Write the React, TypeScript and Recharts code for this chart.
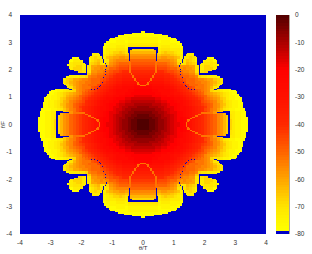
import { Label, Scatter, ScatterChart, XAxis, YAxis } from "recharts";

// Levels of the upper right quadrant, one char per 0.1 x 0.1 cell, 2.5 dB a step.
// First row sits next to y = 0; anything past the end of a row is the last step.
const levelCodes = "0123456789abcdefghijklmnopqrstuv";
const levelRows = [
  "00112334567789ccdefghijkmnprrtuuvv",
  "00112334567889ccdefghijkmnprrtuuvv",
  "11122344567889acdefghijkmnprstuuvv",
  "1122334556789abcdefghijkmnprstuuvv",
  "2223344567789abcdefghjlnpqrsttuuvv",
  "333344566789aabcdefgijlmoqstuuvvv",
  "334445567789aabcdefghjkmnprstuuvv",
  "444555667889abcdefghijkmnpqstuuvv",
  "55556677889aabcdefgijklmoprstuuvv",
  "6666778889aabcdefghiklmnoqrtuuvv",
  "77788899aabbcdefghijkmnoprstuuv",
  "888899aaabccdefghijkmnopqrstuv",
  "88899aaaabcdefghijklmnrsstuuv",
  "999aaaabbcdefghijlllmnpst",
  "ccabbbbccdefghikkkllmnoqst",
  "cccccccddefghikkkllmmnoprsu",
  "dddddddeefghijkkklmmnooqrt",
  "eeeeeeeffghijkkllmrsstttu",
  "fffffffgghijkllmmqtttt",
  "ggggggghiijklmmnnstsrrt",
  "hhhhhiiijkkmnmnnosttrrrt",
  "iiiiijjjklmnnnnoosttrrst",
  "jjjjkkkklmnrtspqrsttssst",
  "kkkkmmmmmnostsqrsuvvtttv",
  "mmmmoonnoopqttsrsu",
  "nnnnpqpppqrsttttt",
  "pppprsrqrrstuuttt",
  "rrrrstssstttu",
  "sssssutttuuuv",
  "tttttuuuuuuv",
  "uuuuuvuuuvv",
  "uuuuuvvvvv",
  "vvvvvvvvv",
  "vvvvv",
];

// Where the field is above the floor, per 0.05 row from y = 0 up: from, to, from, to...
const aboveFloor = [
  [0, 2.76, 2.85, 3.39], [0, 2.76, 2.85, 3.39], [0, 2.76, 2.85, 3.39], [0, 2.76, 2.85, 3.39],
  [0, 2.76, 2.85, 3.38], [0, 2.76, 2.85, 3.37], [0, 2.76, 2.85, 3.36], [0, 2.72, 2.85, 3.35],
  [0, 2.38, 2.85, 3.34], [0, 2.6, 2.85, 3.33], [0, 3.31], [0, 3.29],
  [0, 3.27], [0, 3.26], [0, 3.25], [0, 3.24],
  [0, 3.22], [0, 3.21], [0, 3.2], [0, 3.18],
  [0, 3.14], [0, 3.11], [0, 3.07], [0, 3.04],
  [0, 2.98], [0, 2.28, 2.42, 2.85], [0, 2.38], [0, 2.44],
  [0, 2.5], [0, 2.56], [0, 2.6], [0, 2.62],
  [0, 2.62], [0, 2.58], [0, 2.5], [0, 2.4],
  [0, 1.78], [0, 1.78], [0, 1.78, 1.87, 2.12], [0, 1.78, 1.86, 2.25],
  [0, 1.78, 1.86, 2.34], [0, 1.78, 1.86, 2.39], [0, 1.78, 1.86, 2.42], [0, 1.77, 1.87, 2.43],
  [0, 1.22, 1.26, 1.77, 1.89, 2.42], [0, 1.24, 1.29, 1.76, 1.93, 2.41],
  [0, 0.41, 0.45, 1.25, 1.3, 1.74, 1.97, 2.38], [0, 0.41, 0.45, 1.26, 1.3, 1.74, 2.03, 2.35],
  [0, 0.41, 0.45, 1.28, 1.34, 1.73, 2.12, 2.28], [0, 0.41, 0.45, 1.29, 1.35, 1.71],
  [0, 0.41, 0.45, 1.3, 1.42, 1.67], [0, 0.41, 0.45, 1.3, 1.47, 1.64],
  [0, 0.4, 0.48, 1.31], [0, 0.4, 0.48, 1.31], [0, 0.36, 0.48, 1.31], [0.48, 1.3],
  [0.48, 1.29], [0, 1.27], [0, 1.25], [0, 1.22],
  [0, 1.18], [0, 1.12], [0, 1.05], [0, 0.92],
  [0, 0.8], [0, 0.6], [0, 0.36], [0, 0.05],
];

// Thin contour round the inner tongues (x, y); the x axis tongue is the same swapped.
const ringX = [0.025, 0.075, 0.125, 0.175, 0.175, 0.225, 0.275, 0.275, 0.325, 0.325, 0.375, 0.375, 0.425, 0.425, 0.425, 0.425, 0.425, 0.425, 0.425, 0.425];
const ringY = [1.425, 1.425, 1.475, 1.475, 1.525, 1.575, 1.625, 1.675, 1.725, 1.775, 1.825, 1.875, 1.925, 1.975, 2.025, 2.075, 2.125, 2.175, 2.225, 2.275];
const RING_DB = -52.5;

// Dotted floor line between the body and the side lobes (x, y).
const arcX = [2.175, 2.075, 1.975, 1.875, 1.775, 1.675, 1.575, 1.475, 1.425, 1.375, 1.325, 1.275, 1.275, 1.225, 1.225, 1.225, 1.175, 1.175];
const arcY = [1.225, 1.225, 1.225, 1.225, 1.225, 1.275, 1.275, 1.325, 1.375, 1.425, 1.525, 1.625, 1.725, 1.825, 1.925, 2.025, 2.125, 2.175];

const axisTicks = [-4, -3, -2, -1, 0, 1, 2, 3, 4];
const barTicks = [-80, -70, -60, -50, -40, -30, -20, -10, 0];
const barLevels = [
  -0.5, -1.5, -2.5, -3.5, -4.5, -5.5, -6.5, -7.5, -8.5, -9.5, -10.5, -11.5, -12.5, -13.5, -14.5, -15.5,
  -16.5, -17.5, -18.5, -19.5, -20.5, -21.5, -22.5, -23.5, -24.5, -25.5, -26.5, -27.5, -28.5, -29.5, -30.5, -31.5,
  -32.5, -33.5, -34.5, -35.5, -36.5, -37.5, -38.5, -39.5, -40.5, -41.5, -42.5, -43.5, -44.5, -45.5, -46.5, -47.5,
  -48.5, -49.5, -50.5, -51.5, -52.5, -53.5, -54.5, -55.5, -56.5, -57.5, -58.5, -59.5, -60.5, -61.5, -62.5, -63.5,
  -64.5, -65.5, -66.5, -67.5, -68.5, -69.5, -70.5, -71.5, -72.5, -73.5, -74.5, -75.5, -76.5, -77.5, -78.5, -79.5,
];

// colormap stops: dB, r, g, b
const colourStops = [
  [0, 80, 0, 0],
  [-10, 170, 0, 0],
  [-20, 255, 0, 0],
  [-30, 255, 16, 0],
  [-40, 255, 40, 0],
  [-50, 255, 100, 0],
  [-60, 255, 165, 0],
  [-70, 255, 228, 0],
  [-78, 255, 255, 0],
];

const FLOOR_BLUE = "#0000c8";

function couleur(db: number) {
  if (db < -79) return FLOOR_BLUE;
  for (let i = 1; i < colourStops.length; i++) {
    const [d1, r1, g1, b1] = colourStops[i - 1];
    const [d2, r2, g2, b2] = colourStops[i];
    if (db >= d2) {
      const t = (d1 - db) / (d1 - d2);
      return `rgb(${r1 + (r2 - r1) * t},${g1 + (g2 - g1) * t},${b1 + (b2 - b1) * t})`;
    }
  }
  return "#ffff00";
}

const cleCellule = (x: number, y: number) => `${Math.round((x - 0.025) / 0.05)},${Math.round((y - 0.025) / 0.05)}`;
const ring = new Set<string>();
ringX.forEach((x, k) => {
  ring.add(cleCellule(x, ringY[k]));
  ring.add(cleCellule(ringY[k], x));
});
const arc = new Set<string>(arcX.map((x, k) => cleCellule(x, arcY[k])));

// the floor itself is the blue behind the map, only the cells above it are drawn
const cells: { x: number; y: number; db: number }[] = [];
aboveFloor.forEach((spans, j) => {
  const y = 0.025 + j * 0.05;
  const row = (levelRows[j >> 1] ?? "").padEnd(40, "v");
  for (let i = 0; i < 80; i++) {
    const x = 0.025 + i * 0.05;
    let dedans = false;
    for (let s = 0; s < spans.length; s += 2) if (x >= spans[s] && x <= spans[s + 1]) dedans = true;
    if (!dedans || arc.has(`${i},${j}`)) continue;
    const db = ring.has(`${i},${j}`) ? RING_DB : -2.5 * levelCodes.indexOf(row[i >> 1]);
    cells.push({ x, y, db }, { x: -x, y, db }, { x, y: -y, db }, { x: -x, y: -y, db });
  }
});

const barCells = barLevels.map((db) => ({ x: 0.5, y: db, db }));

const CELL_W = 246 / 160 + 0.5;
const CELL_H = 219 / 160 + 0.5;
const BAR_H = 219 / 80;
const BAR_W = 13;
const tickStyle = { fontSize: 6.5, fill: "#333", fontFamily: "Liberation Sans" };

function CarteCell(props: any) {
  return (
    <rect
      x={props.cx - CELL_W / 2}
      y={props.cy - CELL_H / 2}
      width={CELL_W}
      height={CELL_H}
      fill={couleur(props.payload.db)}
      shapeRendering="crispEdges"
    />
  );
}

function BarCell(props: any) {
  return (
    <rect
      x={props.cx - BAR_W / 2}
      y={props.cy - BAR_H / 2}
      width={BAR_W}
      height={BAR_H + 0.4}
      fill={couleur(props.payload.db)}
      shapeRendering="crispEdges"
    />
  );
}

function AxesCarte({ nu, children }: { nu?: boolean; children?: any }) {
  return (
    <ScatterChart width={312} height={254} margin={{ top: 15, right: 46, bottom: 0, left: 0 }}>
      <XAxis
        type="number"
        dataKey="x"
        domain={[-4, 4]}
        ticks={axisTicks}
        tick={nu ? false : tickStyle}
        tickLine={false}
        axisLine={false}
        height={20}
        tickMargin={0}
        interval={0}
        allowDataOverflow
      >
        {nu ? null : <Label value="θ/T" position="insideBottom" offset={4} style={{ ...tickStyle, fontSize: 6 }} />}
      </XAxis>
      <YAxis
        type="number"
        dataKey="y"
        domain={[-4, 4]}
        ticks={axisTicks}
        tick={nu ? false : tickStyle}
        tickLine={false}
        axisLine={false}
        width={20}
        tickMargin={2}
        interval={0}
        allowDataOverflow
      >
        {nu ? null : (
          <Label value="f/F" angle={-90} position="insideLeft" offset={3} style={{ ...tickStyle, fontSize: 6, textAnchor: "middle" }} />
        )}
      </YAxis>
      {children}
    </ScatterChart>
  );
}

export default function App() {
  return (
    <div style={{ position: "absolute", left: 0, top: 0, width: 312, height: 254 }}>
      {/* the map is softened a little, the axes sit sharp above it */}
      <div style={{ position: "absolute", left: 20, top: 15, width: 246, height: 219, overflow: "hidden" }}>
        <div style={{ position: "absolute", left: -20, top: -15, width: 312, height: 254, background: FLOOR_BLUE, filter: "blur(0.75px)" }}>
          <AxesCarte nu>
            <Scatter data={cells} isAnimationActive={false} shape={CarteCell} />
          </AxesCarte>
        </div>
      </div>
      <div style={{ position: "absolute", left: 0, top: 0 }}>
        <AxesCarte>
          <Scatter data={[]} isAnimationActive={false} />
        </AxesCarte>
      </div>
      <div style={{ position: "absolute", left: 276, top: 0 }}>
        <ScatterChart width={36} height={254} margin={{ top: 15, right: 0, bottom: 20, left: 0 }}>
          <XAxis type="number" dataKey="x" domain={[0, 1]} hide />
          <YAxis
            type="number"
            dataKey="y"
            orientation="right"
            domain={[-80, 0]}
            ticks={barTicks}
            tick={tickStyle}
            tickLine={false}
            axisLine={{ stroke: "#5a4a30" }}
            width={23}
            tickMargin={0}
            interval={0}
          />
          <Scatter data={barCells} isAnimationActive={false} shape={BarCell} />
        </ScatterChart>
      </div>
    </div>
  );
}
